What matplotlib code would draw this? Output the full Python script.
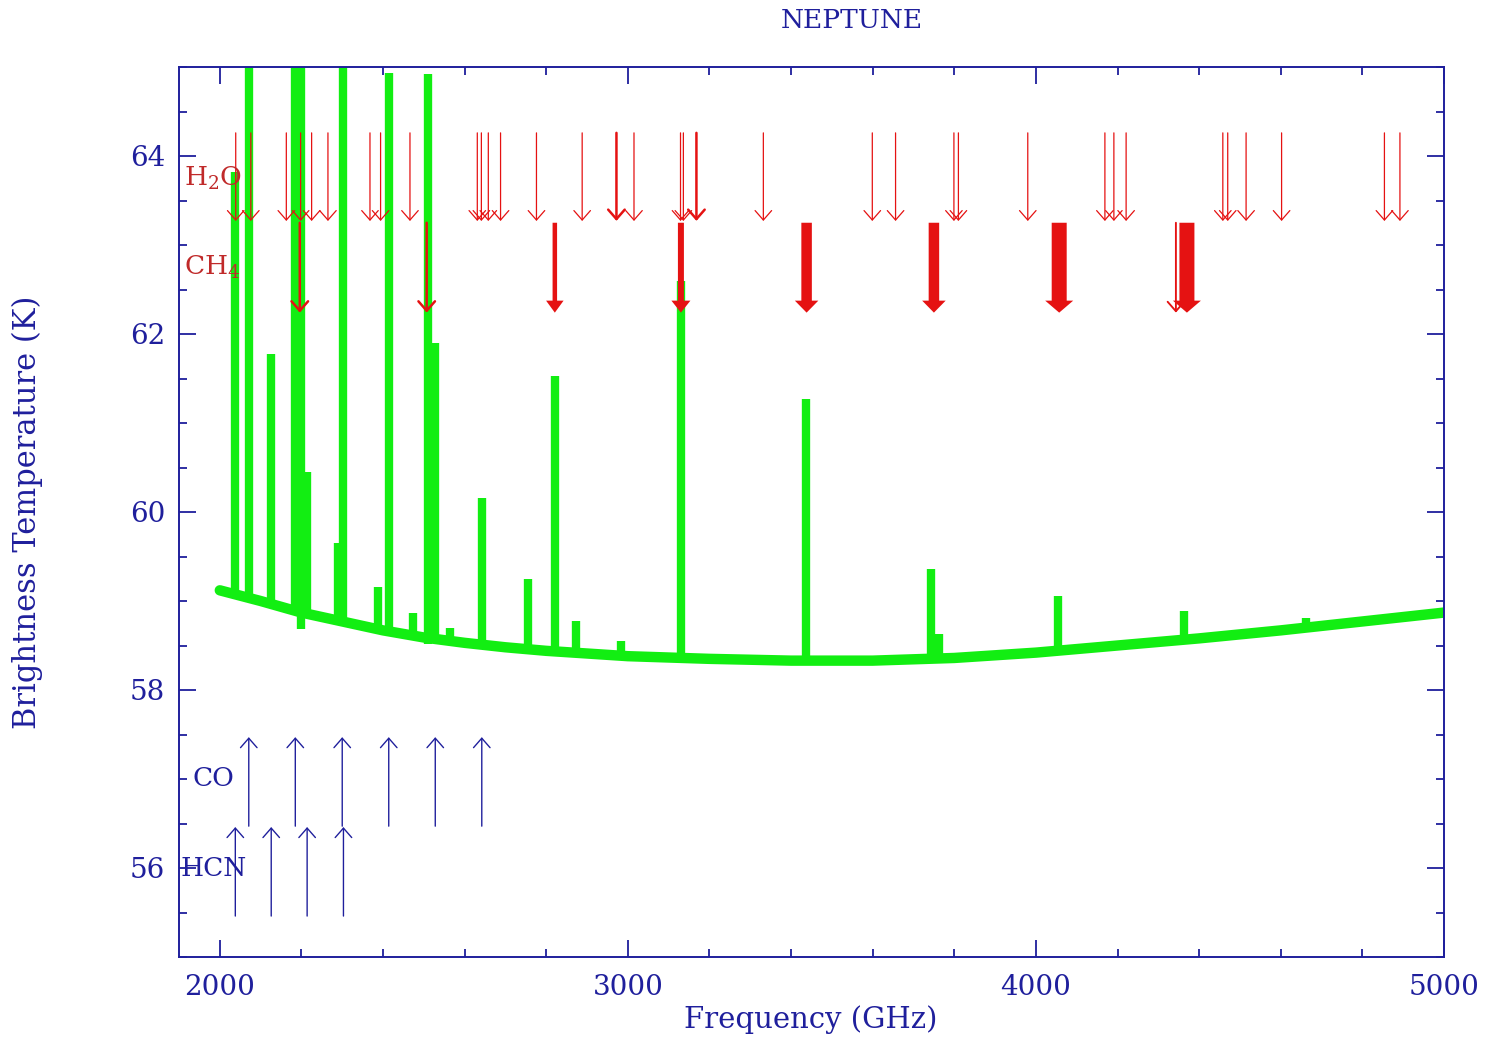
import numpy as np
import matplotlib
matplotlib.use('Agg')
import matplotlib.pyplot as plt
from matplotlib.ticker import MultipleLocator

# --- data ---
# continuum (GHz, K)
base_freq = [2000, 2100, 2200, 2300, 2400, 2500, 2600, 2700, 2800, 2900, 3000,
             3200, 3400, 3600, 3800, 4000, 4200, 4400, 4600, 4800, 5000]
base_temp = [59.12, 59.00, 58.87, 58.77, 58.67, 58.59, 58.53, 58.48, 58.44, 58.41, 58.38,
             58.35, 58.33, 58.33, 58.36, 58.42, 58.50, 58.58, 58.67, 58.77, 58.87]

# emission spikes: frequency, foot, peak
spike_freq = [2037, 2072, 2125, 2185, 2200, 2213, 2289, 2301, 2387, 2414, 2473, 2510,
              2527, 2564, 2642, 2755, 2821, 2873, 2983, 3129, 3436, 3743, 3762,
              4054, 4363, 4662]
spike_base = [59.07, 59.03, 58.97, 58.85, 58.68, 58.85, 58.78, 58.77, 58.68, 58.66, 58.62, 58.52,
              58.58, 58.56, 58.52, 58.46, 58.43, 58.42, 58.38, 58.36, 58.33, 58.34, 58.34,
              58.42, 58.56, 58.70]
spike_peak = [63.82, 65.5, 61.78, 65.5, 65.5, 60.45, 59.65, 65.5, 59.16, 64.93, 58.87, 64.92,
              61.90, 58.70, 60.16, 59.25, 61.53, 58.78, 58.55, 62.60, 61.27, 59.36, 58.63,
              59.06, 58.89, 58.81]

h2o_freq = [2039, 2076, 2163, 2198, 2225, 2265, 2368, 2394, 2466, 2631, 2641, 2658,
            2688, 2776, 2888, 2972, 3015, 3129, 3136, 3168, 3332, 3599, 3656, 3799,
            3810, 3980, 4169, 4191, 4221, 4458, 4470, 4515, 4602, 4854, 4892]
h2o_strength = [1, 1, 1, 1, 1, 1, 1, 1, 1, 1, 1, 1,
                1, 1, 1, 2, 1, 1, 1, 2, 1, 1, 1, 1,
                1, 1, 1, 1, 1, 1, 1, 1, 1, 1, 1]
h2o_range = (64.26, 63.27)

ch4_freq = [2196, 2507, 2821, 3130, 3438, 3750, 4057, 4343, 4370]
ch4_strength = [2, 2, 3, 4, 7, 7, 10, 1.5, 10]
ch4_range = (63.25, 62.24)

co_freq = [2071, 2185, 2300, 2414, 2528, 2642]
co_range = (56.47, 57.47)
hcn_freq = [2038, 2126, 2214, 2303]
hcn_range = (55.46, 56.46)

NAVY = '#1f1f9c'
GREEN = '#12ee12'
RED = '#e51212'
DARKRED = '#c02a2a'

plt.rcParams['font.family'] = ['DejaVu Serif']
plt.rcParams['mathtext.fontset'] = 'dejavuserif'

fig = plt.figure(figsize=(14.89, 10.38), dpi=100)
ax = fig.add_axes([179/1489, 1 - 957/1038, (1444 - 179)/1489, (957 - 67)/1038])
ax.set_xlim(1900, 5000)
ax.set_ylim(55, 65)

# pixel -> data size factors (for the filled arrows)
gx = 3100 / 1265
gy = 10 / 890

# spectrum
ax.vlines(spike_freq, spike_base, spike_peak, colors=GREEN, lw=6, zorder=2)
ax.plot(base_freq, base_temp, color=GREEN, lw=7.5, solid_capstyle='round', zorder=2)

def arrow(x, y0, y1, color, s):
    if s >= 3:
        # fat arrow: filled shaft and head
        shaft = 1.5 * s
        ax.arrow(x, y0, 0, y1 - y0, width=shaft * gx, head_width=(shaft + 13) * gx,
                 head_length=12 * gy, length_includes_head=True,
                 fc=color, ec='none', zorder=4)
        return
    ax.annotate('', xy=(x, y1), xytext=(x, y0),
                arrowprops=dict(arrowstyle='->,head_length=0.4,head_width=0.35',
                                color=color, lw=0.9 * s, shrinkA=0, shrinkB=0,
                                mutation_scale=17),
                zorder=4)

for f, s in zip(h2o_freq, h2o_strength):
    arrow(f, h2o_range[0], h2o_range[1], RED, s)
for f, s in zip(ch4_freq, ch4_strength):
    arrow(f, ch4_range[0], ch4_range[1], RED, s)
for f in co_freq:
    arrow(f, co_range[0], co_range[1], NAVY, 1.1)
for f in hcn_freq:
    arrow(f, hcn_range[0], hcn_range[1], NAVY, 1.1)

ax.text(1912, 63.75, r'H$_{2}$O', color=DARKRED, fontsize=19, va='center', zorder=5)
ax.text(1912, 62.75, r'CH$_{4}$', color=DARKRED, fontsize=19, va='center', zorder=5)
ax.text(1932, 57.0, 'CO', color=NAVY, fontsize=19, va='center', zorder=5)
ax.text(1903, 56.0, 'HCN', color=NAVY, fontsize=19, va='center', zorder=5)

ax.xaxis.set_major_locator(MultipleLocator(1000))
ax.xaxis.set_minor_locator(MultipleLocator(200))
ax.yaxis.set_major_locator(MultipleLocator(2))
ax.yaxis.set_minor_locator(MultipleLocator(0.5))
ax.tick_params(which='both', direction='in', top=True, right=True, color=NAVY,
               labelcolor=NAVY, labelsize=20, width=1.3)
ax.tick_params(which='major', length=12)
ax.tick_params(which='minor', length=6)
ax.tick_params(axis='x', pad=12)
ax.tick_params(axis='y', pad=10)
for sp in ax.spines.values():
    sp.set_color(NAVY)
    sp.set_linewidth(1.4)

fig.text(852/1489, 1 - 20/1038, 'NEPTUNE', color=NAVY, fontsize=19, ha='center', va='center')
fig.text(811/1489, 1 - 1020/1038, 'Frequency (GHz)', color=NAVY, fontsize=21,
         ha='center', va='center')
fig.text(27/1489, 1 - 512/1038, 'Brightness Temperature (K)', color=NAVY, fontsize=22,
         ha='center', va='center', rotation=90)

fig.savefig('out.png', dpi=100)
